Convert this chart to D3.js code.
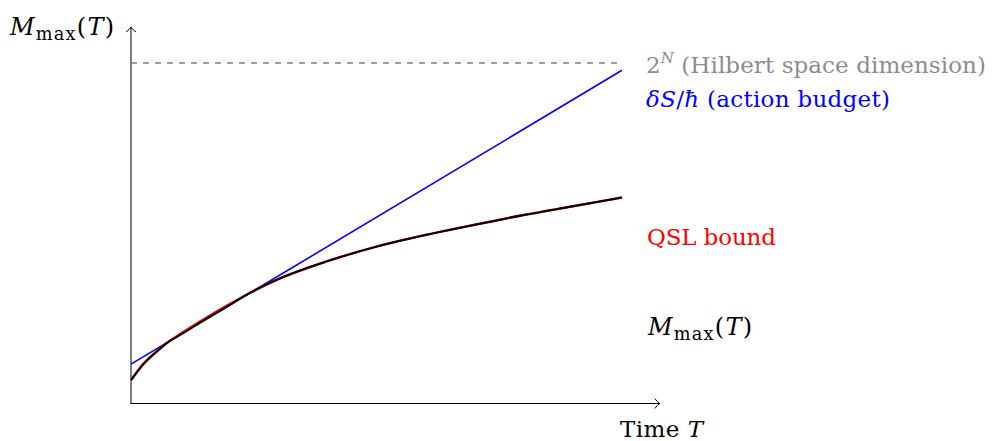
<!DOCTYPE html>
<html><head><meta charset="utf-8">
<script src="https://cdn.jsdelivr.net/npm/d3@7"></script>
<style>
html,body{margin:0;padding:0;background:#fff;}
svg text{font-family:"DejaVu Serif","Liberation Serif",serif;}
</style></head>
<body><svg id="c" width="992" height="441"></svg>
<script>
// ---- data ----
const timeT      = [0, 0.25, 0.5, 0.77, 1, 1.5, 2, 2.42, 3, 4, 5, 6, 7, 8, 9, 10];
const qslBound   = [0.47, 0.80, 1.04, 1.265, 1.42, 1.735, 2.03, 2.265, 2.55, 2.92, 3.22, 3.46, 3.67, 3.87, 4.05, 4.23];
const mMax       = [0.47, 0.80, 1.04, 1.265, 1.40, 1.71, 2.01, 2.265, 2.55, 2.92, 3.22, 3.46, 3.67, 3.87, 4.05, 4.23];
const actionT    = [0, 10];
const actionBudget = [0.80, 6.85];
const hilbertDim = 7;
const labels = {
  yAxis: "M", xAxis: "Time ",
  hilbert: " (Hilbert space dimension)",
  action: " (action budget)",
  qsl: "QSL bound"
};

const svg = d3.select("#c");
const x = d3.scaleLinear().domain([0, 10]).range([131, 622]);
const y = d3.scaleLinear().domain([0, 7]).range([403, 63]);
const xMax = 10.77, yMax = 7.74;
const FS = 23;

// axes
svg.append("line").attr("x1", x(0)).attr("x2", x(xMax)).attr("y1", y(0)+0.5).attr("y2", y(0)+0.5)
  .attr("stroke", "#000").attr("stroke-width", 1);
svg.append("line").attr("x1", x(0)).attr("x2", x(0)).attr("y1", y(0)+1).attr("y2", y(yMax))
  .attr("stroke", "#000").attr("stroke-width", 1);
const ax = x(xMax), ay = y(0)+0.5;
svg.append("path").attr("d", `M${ax-5},${ay-5} Q${ax-2},${ay-1} ${ax},${ay} Q${ax-2},${ay+1} ${ax-5},${ay+5}`)
  .attr("fill", "none").attr("stroke", "#000").attr("stroke-width", 1);
const bx = x(0), by = y(yMax);
svg.append("path").attr("d", `M${bx-5},${by+5} Q${bx-1},${by+2} ${bx},${by} Q${bx+1},${by+2} ${bx+5},${by+5}`)
  .attr("fill", "none").attr("stroke", "#000").attr("stroke-width", 1);

// dashed Hilbert line
svg.append("line").attr("x1", x(0)).attr("x2", x(10)).attr("y1", y(hilbertDim)).attr("y2", y(hilbertDim))
  .attr("stroke", "#808080").attr("stroke-width", 1.4).attr("stroke-dasharray", "6,6");

const line = d3.line().x(d => x(d[0])).y(d => y(d[1])).curve(d3.curveMonotoneX);

svg.append("path").datum(actionT.map((t,i)=>[t, actionBudget[i]])).attr("d", d3.line().x(d=>x(d[0])).y(d=>y(d[1])))
  .attr("fill", "none").attr("stroke", "#0000ff").attr("stroke-width", 1.6);
svg.append("path").datum(timeT.map((t,i)=>[t, qslBound[i]])).attr("d", line)
  .attr("fill", "none").attr("stroke", "#ff0000").attr("stroke-width", 2.4);
svg.append("path").datum(timeT.map((t,i)=>[t, mMax[i]])).attr("d", line)
  .attr("fill", "none").attr("stroke", "#000").attr("stroke-width", 2);

function fit(t, w) { t.attr("textLength", w).attr("lengthAdjust", "spacing"); return t; }

function mmaxLabel(px, py, w) {
  const fs = 24;
  const t = svg.append("text").attr("x", px).attr("y", py).attr("font-size", fs).attr("fill", "#000");
  t.append("tspan").attr("font-style", "italic").text(labels.yAxis);
  t.append("tspan").attr("font-size", fs*0.74).attr("dy", fs*0.2).text("max");
  t.append("tspan").attr("dy", -fs*0.2).text("(");
  t.append("tspan").attr("font-style", "italic").text("T");
  t.append("tspan").text(")");
  return fit(t, w);
}
mmaxLabel(10, 35, 104);
mmaxLabel(648, 335, 104);

const tl = svg.append("text").attr("x", 620).attr("y", 437).attr("font-size", FS).attr("fill", "#000");
tl.append("tspan").text(labels.xAxis);
tl.append("tspan").attr("font-style", "italic").text("T");
fit(tl, 83);

const hl = svg.append("text").attr("x", 646).attr("y", 73).attr("font-size", FS).attr("fill", "#8c8c8c");
hl.append("tspan").text("2");
hl.append("tspan").attr("font-size", 15).attr("dy", -10).attr("font-style", "italic").text("N");
hl.append("tspan").attr("dy", 10).text(labels.hilbert);
fit(hl, 340);

const al = svg.append("text").attr("x", 646).attr("y", 107).attr("font-size", FS).attr("fill", "#0000ff");
al.append("tspan").attr("font-style", "italic").text("δS");
al.append("tspan").text("/");
al.append("tspan").attr("font-style", "italic").text("ħ");
al.append("tspan").text(labels.action);
fit(al, 244);

fit(svg.append("text").attr("x", 647).attr("y", 245).attr("font-size", FS).attr("fill", "#ff0000").text(labels.qsl), 129);
</script></body></html>
